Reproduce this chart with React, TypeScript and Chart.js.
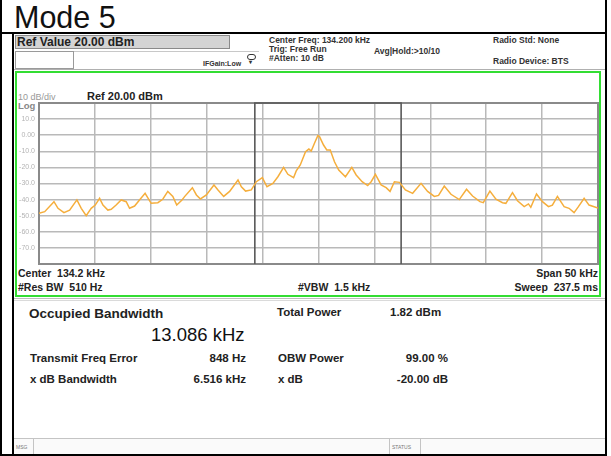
import React, { useEffect, useRef } from "react";
import { Chart, registerables } from "chart.js";
Chart.register(...registerables);

const FONT = '"Liberation Sans", Arial, sans-serif';

// Trace (kHz, dBm)
const freqKHz = [
  109.2, 109.71, 110.54, 110.9, 111.43, 111.94, 112.59, 112.98, 113.42, 113.87,
  114.23, 114.62, 114.92, 115.36, 115.66, 116.1, 116.55, 117.0, 117.3, 117.75,
  118.19, 118.69, 119.23, 119.83, 120.27, 120.72, 121.17, 121.52, 121.99, 122.24,
  122.92, 123.28, 123.64, 124.17, 124.85, 125.21, 125.72, 126.25, 127.0, 127.3,
  127.68, 128.19, 128.64, 129.18, 129.59, 130.12, 130.57, 131.08, 131.46, 131.97,
  132.21, 132.57, 133.04, 133.34, 133.55, 133.84, 134.14, 134.29, 134.65, 134.94,
  135.25, 135.63, 136.01, 136.61, 137.18, 137.57, 138.1, 138.6, 138.91, 139.29,
  139.8, 140.25, 140.6, 140.99, 141.44, 141.97, 142.62, 143.37, 143.96, 144.56,
  144.94, 145.45, 146.05, 146.79, 147.44, 147.98, 148.64, 148.94, 149.53, 150.07,
  150.66, 150.96, 151.55, 152.0, 152.6, 152.98, 153.19, 153.7, 154.23, 154.77,
  155.12, 155.57, 156.17, 156.61, 157.06, 157.45, 157.96, 158.4, 159.2,
];
const levelDbm = [
  -48.5, -47.5, -41.3, -45.4, -48.1, -46.5, -40.2, -45.4, -50.0, -45.4,
  -43.4, -39.2, -43.4, -46.5, -46.0, -43.4, -40.2, -41.3, -45.4, -44.0,
  -40.2, -36.1, -42.3, -41.9, -39.8, -34.9, -38.0, -43.4, -40.2, -38.0,
  -32.6, -37.1, -39.6, -37.1, -30.9, -34.0, -38.0, -34.9, -27.8, -32.0,
  -34.7, -34.0, -28.9, -26.4, -32.0, -29.9, -25.8, -20.0, -24.3, -26.4,
  -22.2, -18.5, -10.2, -8.6, -9.8, -5.0, -0.3, -0.9, -6.1, -9.2,
  -9.2, -16.5, -21.6, -25.8, -20.0, -24.7, -28.9, -31.3, -28.9, -24.3,
  -30.9, -32.6, -34.9, -28.9, -29.3, -34.0, -36.1, -29.9, -34.9, -38.0,
  -37.4, -31.6, -36.7, -40.0, -33.6, -37.8, -41.3, -41.9, -34.7, -39.8,
  -41.9, -42.3, -35.7, -40.7, -44.4, -42.7, -44.8, -36.5, -41.3, -44.4,
  -43.4, -38.0, -44.4, -45.4, -48.1, -44.4, -39.2, -43.4, -45.3,
];

const xTicks = [109.2, 114.2, 119.2, 124.2, 129.2, 134.2, 139.2, 144.2, 149.2, 154.2, 159.2];
const yTicks = [20, 10, 0, -10, -20, -30, -40, -50, -60, -70, -80];
const yTickLabels = ["", "10.0", "0.00", "-10.0", "-20.0", "-30.0", "-40.0", "-50.0", "-60.0", "-70.0", ""];
const obwEdges = [128.505, 141.591];
const xMin = 109.2;
const xMax = 159.2;
const yMin = -80;
const yMax = 20;

function T(props: any) {
  const { x, y, fs, b, c, right, children } = props;
  const style: any = {
    position: "absolute",
    top: y - fs / 2,
    fontSize: fs,
    lineHeight: fs + "px",
    fontWeight: b ? "bold" : "normal",
    color: c || "#111",
    whiteSpace: "pre",
    fontFamily: FONT,
  };
  if (right) style.right = 611 - x;
  else style.left = x;
  return <div style={style}>{children}</div>;
}

function Bx(props: any) {
  const { x, y, w, h, bg, bd, bw } = props;
  return (
    <div
      style={{
        position: "absolute",
        left: x,
        top: y,
        width: w,
        height: h,
        boxSizing: "border-box",
        background: bg || "transparent",
        border: bd ? `${bw || 1}px solid ${bd}` : "none",
      }}
    />
  );
}

export default function App() {
  const ref = useRef<HTMLCanvasElement>(null);
  useEffect(() => {
    if (!ref.current) return;
    const frame = {
      id: "frame",
      beforeDatasetsDraw(chart: any) {
        const { ctx, chartArea: a } = chart;
        ctx.save();
        ctx.strokeStyle = "#8a8a8a";
        ctx.lineWidth = 2;
        ctx.strokeRect(a.left, a.top, a.right - a.left, a.bottom - a.top);
        ctx.restore();
      },
    };
    const chart = new Chart(ref.current, {
      type: "line",
      data: {
        datasets: [
          {
            data: freqKHz.map((f, i) => ({ x: f, y: levelDbm[i] })),
            borderColor: "#F5AE3C",
            borderWidth: 1.5,
            pointRadius: 0,
            tension: 0,
          },
          {
            data: [
              { x: obwEdges[0], y: yMin },
              { x: obwEdges[0], y: yMax },
              { x: obwEdges[1], y: yMax },
              { x: obwEdges[1], y: yMin },
            ],
            borderColor: "#5a5a5a",
            borderWidth: 1.6,
            pointRadius: 0,
            clip: 3,
          } as any,
        ],
      },
      options: {
        animation: false,
        responsive: false,
        devicePixelRatio: 1,
        events: [],
        layout: { padding: { left: 17, top: 103, right: 13, bottom: 192 } },
        plugins: { legend: { display: false }, tooltip: { enabled: false } },
        scales: {
          x: {
            type: "linear",
            min: xMin,
            max: xMax,
            afterBuildTicks: (s: any) => {
              s.ticks = xTicks.map((v) => ({ value: v }));
            },
            afterFit: (s: any) => {
              s.height = 0;
            },
            ticks: { display: false },
            grid: { color: "#b9b9b9", lineWidth: 1.5, drawTicks: false },
            border: { display: false },
          },
          y: {
            type: "linear",
            min: yMin,
            max: yMax,
            afterBuildTicks: (s: any) => {
              s.ticks = [...yTicks].sort((a, b) => a - b).map((v) => ({ value: v }));
            },
            afterFit: (s: any) => {
              s.width = 22;
            },
            ticks: {
              callback: (v: any) => yTickLabels[yTicks.indexOf(Number(v))],
              color: "#b4b4b4",
              font: { size: 7, family: FONT },
              padding: 4,
            },
            grid: { color: "#b9b9b9", lineWidth: 1.5, drawTicks: false },
            border: { display: false },
          },
        },
      },
      plugins: [frame],
    } as any);
    return () => chart.destroy();
  }, []);

  return (
    <div
      style={{
        position: "absolute",
        left: 0,
        top: 0,
        width: 611,
        height: 456,
        background: "#fff",
        overflow: "hidden",
        fontFamily: FONT,
      }}
    >
      {/* outer table frame */}
      <Bx x={0} y={0} w={2} h={456} bg="#000" />
      <Bx x={605} y={0} w={2} h={456} bg="#000" />
      <Bx x={0} y={32} w={607} h={2} bg="#000" />
      <Bx x={0} y={454} w={607} h={2} bg="#000" />
      <T x={14} y={17} fs={30.5}>Mode 5</T>

      {/* screenshot edge */}
      <Bx x={12} y={33} w={2} h={423} bg="#000" />

      {/* header */}
      <Bx x={15} y={35} w={215} h={14} bg="#d4d4d4" bd="#8a8a8a" />
      <T x={17} y={42} fs={12} b c="#222">Ref Value 20.00 dBm</T>
      <Bx x={15} y={51} w={59} h={18} bg="#fff" bd="#9a9a9a" />
      <Bx x={74} y={51} w={185} h={1} bg="#c8c8c8" />
      <T x={203} y={63} fs={7} b c="#333">IFGain:Low</T>
      <div
        style={{
          position: "absolute",
          left: 247,
          top: 54,
          width: 9,
          height: 6,
          border: "1px solid #333",
          borderRadius: 3,
          boxSizing: "border-box",
        }}
      />
      <T x={249} y={62} fs={6} b c="#333">▾</T>
      <T x={269} y={40} fs={8.5} b c="#333">Center Freq: 134.200 kHz</T>
      <T x={269} y={49} fs={8.5} b c="#333">Trig: Free Run</T>
      <T x={269} y={58} fs={8.5} b c="#333">#Atten: 10 dB</T>
      <T x={374} y={51} fs={8.5} b c="#333">Avg|Hold:&gt;10/10</T>
      <T x={493} y={40} fs={8.5} b c="#333">Radio Std: None</T>
      <T x={493} y={61} fs={8.5} b c="#333">Radio Device: BTS</T>
      <Bx x={14} y={69} w={591} h={1} bg="#b0b0b0" />

      {/* green trace window */}
      <Bx x={15} y={71} w={586} h={226} bd="#33dd33" bw={2} />
      <T x={18} y={97} fs={9} c="#999">10 dB/div</T>
      <T x={18} y={106} fs={9.5} b c="#888">Log</T>
      <T x={87} y={96} fs={11} b c="#222">Ref 20.00 dBm</T>
      <T x={18} y={273} fs={10.5} b c="#222">Center  134.2 kHz</T>
      <T x={18} y={287} fs={10.5} b c="#222">#Res BW  510 Hz</T>
      <T x={298} y={287} fs={10.5} b c="#222">#VBW  1.5 kHz</T>
      <T x={598} y={273} fs={10.5} b c="#222" right>Span 50 kHz</T>
      <T x={598} y={287} fs={10.5} b c="#222" right>Sweep  237.5 ms</T>

      {/* measurement panel */}
      <Bx x={14} y={298} w={591} h={1} bg="#bdbdbd" />
      <Bx x={14} y={300} w={591} h={1} bg="#dadada" />
      <T x={29} y={314} fs={13.5} b c="#222">Occupied Bandwidth</T>
      <T x={151} y={335} fs={18.5} c="#111">13.086 kHz</T>
      <T x={277} y={313} fs={11.5} b c="#222">Total Power</T>
      <T x={390} y={313} fs={11.5} b c="#222">1.82 dBm</T>
      <T x={30} y={359} fs={11.5} b c="#222">Transmit Freq Error</T>
      <T x={246} y={359} fs={11.5} b c="#222" right>848 Hz</T>
      <T x={278} y={359} fs={11.5} b c="#222">OBW Power</T>
      <T x={448} y={359} fs={11.5} b c="#222" right>99.00 %</T>
      <T x={30} y={380} fs={11.5} b c="#222">x dB Bandwidth</T>
      <T x={246} y={380} fs={11.5} b c="#222" right>6.516 kHz</T>
      <T x={278} y={380} fs={11.5} b c="#222">x dB</T>
      <T x={448} y={380} fs={11.5} b c="#222" right>-20.00 dB</T>

      {/* status bar */}
      <Bx x={14} y={438} w={591} h={16} bg="#fafafa" />
      <Bx x={14} y={438} w={591} h={1} bg="#c4c4c4" />
      <Bx x={33} y={439} w={1} h={15} bg="#c4c4c4" />
      <Bx x={389} y={439} w={1} h={15} bg="#c4c4c4" />
      <Bx x={420} y={439} w={1} h={15} bg="#c4c4c4" />
      <T x={16} y={447} fs={5} c="#777">MSG</T>
      <T x={392} y={447} fs={5} c="#777">STATUS</T>

      <canvas
        ref={ref}
        width={611}
        height={456}
        style={{ position: "absolute", left: 0, top: 0, width: 611, height: 456 }}
      />
    </div>
  );
}
